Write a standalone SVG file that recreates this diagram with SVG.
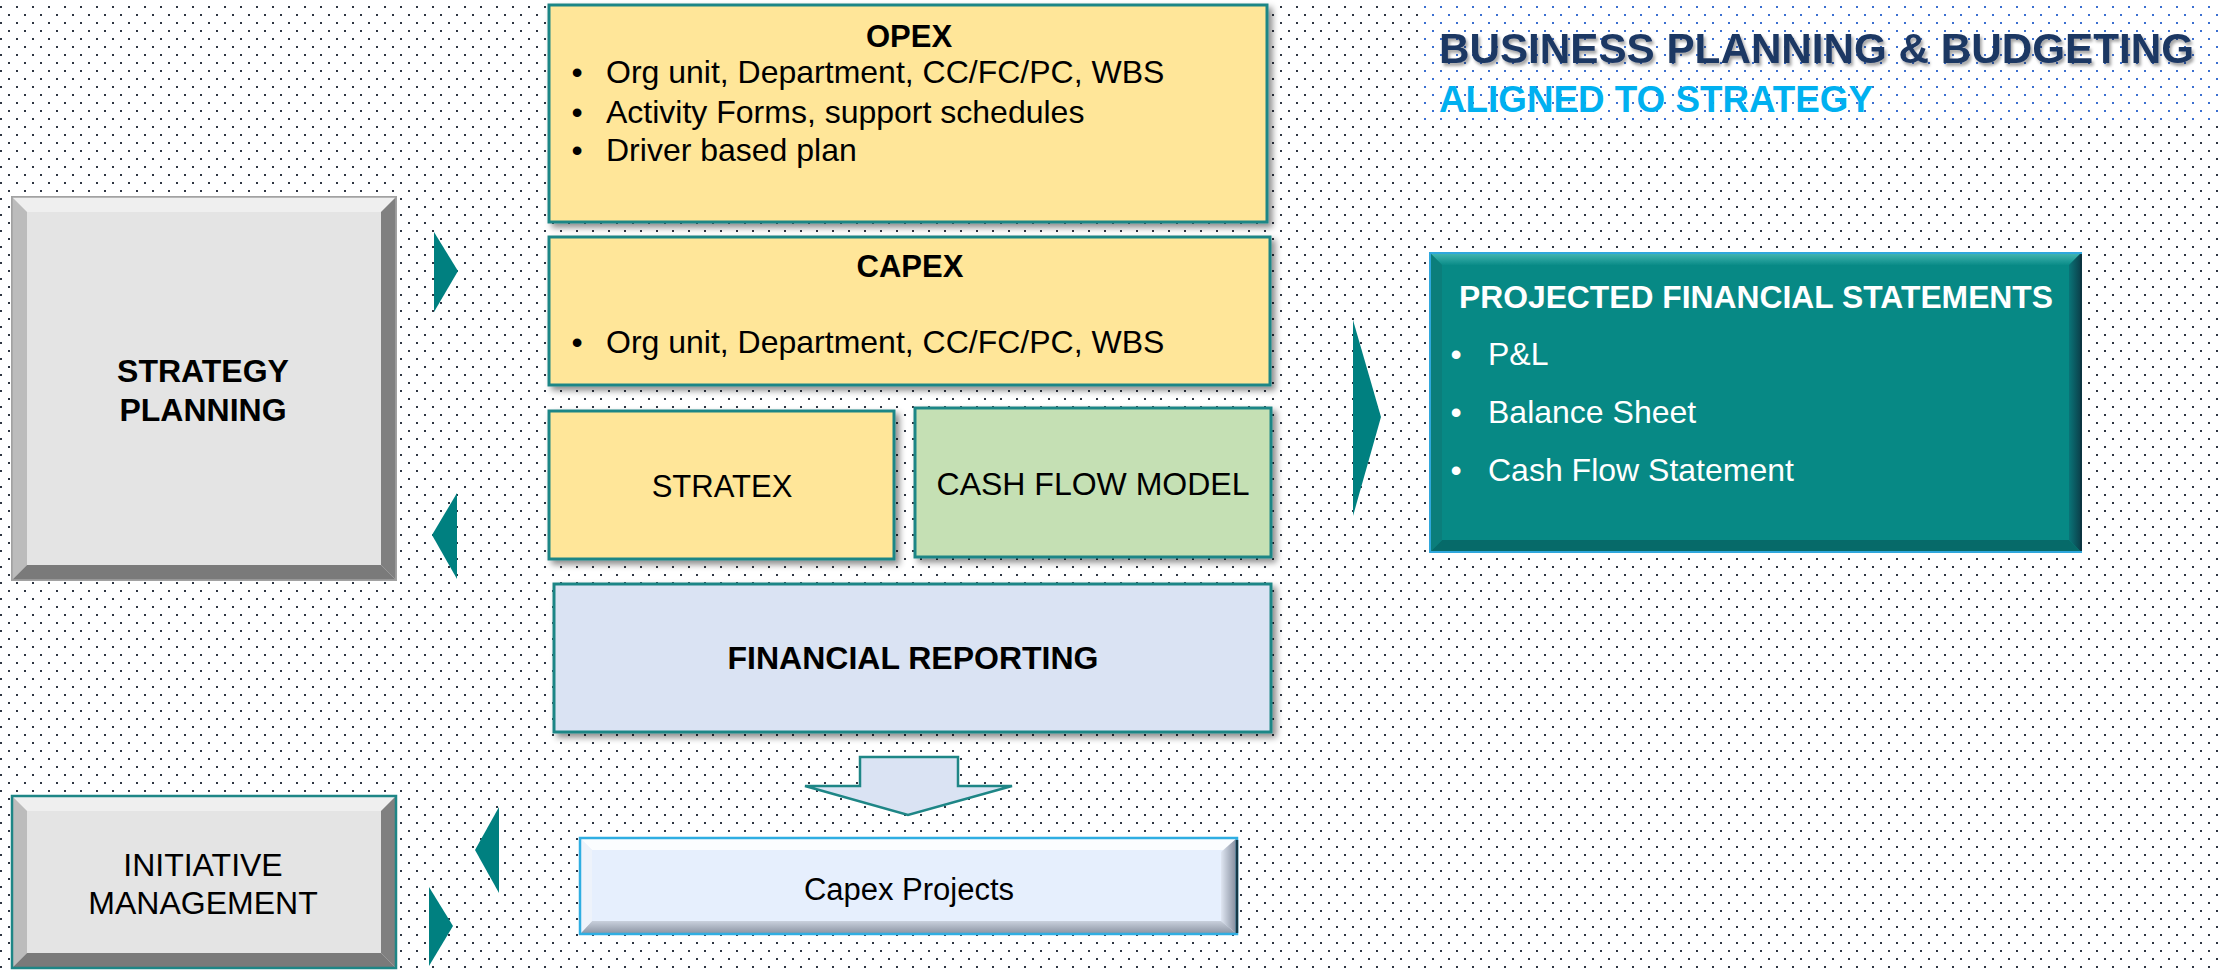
<svg xmlns="http://www.w3.org/2000/svg" width="2219" height="970" viewBox="0 0 2219 970">
<defs>
<pattern id="dots" width="16" height="16" patternUnits="userSpaceOnUse"><rect x="0" y="6" width="2" height="2" fill="#2e3542"/><rect x="8" y="14" width="2" height="2" fill="#2e3542"/></pattern>
<pattern id="bdots" width="16" height="16" patternUnits="userSpaceOnUse"><rect x="0" y="6" width="2" height="2" fill="#3b6fd0"/><rect x="8" y="14" width="2" height="2" fill="#3b6fd0"/></pattern>
<filter id="sh" x="-5%" y="-5%" width="115%" height="120%"><feDropShadow dx="4" dy="4" stdDeviation="3" flood-color="#000" flood-opacity="0.45"/></filter>
<filter id="tsh" x="-5%" y="-20%" width="110%" height="150%"><feDropShadow dx="2" dy="3" stdDeviation="1.5" flood-color="#000" flood-opacity="0.35"/></filter>
<linearGradient id="ptop" x1="0" y1="0" x2="0" y2="1"><stop offset="0" stop-color="#45b7b3"/><stop offset="1" stop-color="#0a8c88"/></linearGradient>
<linearGradient id="pright" x1="0" y1="0" x2="1" y2="0"><stop offset="0" stop-color="#0a7478"/><stop offset="1" stop-color="#0b3f4a"/></linearGradient>
<linearGradient id="cright" x1="0" y1="0" x2="1" y2="0"><stop offset="0" stop-color="#dfe6f2"/><stop offset="1" stop-color="#7f8898"/></linearGradient>
<linearGradient id="cbot" x1="0" y1="0" x2="0" y2="1"><stop offset="0" stop-color="#c9d0dc"/><stop offset="1" stop-color="#8a93a2"/></linearGradient>
<style>
.t{font-family:"Liberation Sans",Arial,sans-serif;fill:#000}
.b{font-weight:bold}
.c{text-anchor:middle}
.yel{fill:#ffe699;stroke:#1e8686;stroke-width:3}
.arr{fill:#008080}
.w{fill:#fff}
</style>
</defs>
<rect width="2219" height="970" fill="#fff"/>
<rect width="2219" height="970" fill="url(#dots)"/>
<rect x="1422" y="0" width="797" height="122" fill="#fff"/>
<rect x="1422" y="0" width="797" height="122" fill="url(#bdots)"/>

<g id="title">
<text class="t b" x="1439" y="63" font-size="42" fill="#1f3864" style="fill:#1f3864" textLength="755" lengthAdjust="spacingAndGlyphs" filter="url(#tsh)">BUSINESS PLANNING &amp; BUDGETING</text>
<text class="t b" x="1439" y="112" font-size="36" style="fill:#00b0f0" textLength="434" lengthAdjust="spacingAndGlyphs">ALIGNED TO STRATEGY</text>
</g>

<g id="strategy-planning">
<rect x="12" y="197" width="384" height="383" fill="#e4e4e4" stroke="#9c9c9c" stroke-width="2"/>
<path d="M12,197 L396,197 L381,212 L27,212 Z" fill="#efefef"/>
<path d="M12,197 L27,212 L27,565 L12,580 Z" fill="#bcbcbc"/>
<path d="M396,197 L396,580 L381,565 L381,212 Z" fill="#808080"/>
<path d="M12,580 L396,580 L381,565 L27,565 Z" fill="#7a7a7a"/>
<rect x="12" y="197" width="384" height="383" fill="none" stroke="#a4a4a4" stroke-width="1.5"/>
<text class="t b c" x="203" y="382" font-size="32">STRATEGY</text>
<text class="t b c" x="203" y="421" font-size="32">PLANNING</text>
</g>

<g id="initiative-management">
<rect x="12" y="796" width="384" height="172" fill="#e4e4e4"/>
<path d="M12,796 L396,796 L381,811 L27,811 Z" fill="#efefef"/>
<path d="M12,796 L27,811 L27,953 L12,968 Z" fill="#bcbcbc"/>
<path d="M396,796 L396,968 L381,953 L381,811 Z" fill="#808080"/>
<path d="M12,968 L396,968 L381,953 L27,953 Z" fill="#7a7a7a"/>
<rect x="12" y="796" width="384" height="172" fill="none" stroke="#1e8686" stroke-width="2.5"/>
<text class="t c" x="203" y="876" font-size="32">INITIATIVE</text>
<text class="t c" x="203" y="914" font-size="32">MANAGEMENT</text>
</g>

<g id="opex">
<rect class="yel" x="549" y="5" width="718" height="217" filter="url(#sh)"/>
<text class="t b c" x="909" y="47" font-size="31">OPEX</text>
<text class="t c" x="577" y="83" font-size="32">•</text>
<text class="t" x="606" y="83" font-size="32">Org unit, Department, CC/FC/PC, WBS</text>
<text class="t c" x="577" y="123" font-size="32">•</text>
<text class="t" x="606" y="123" font-size="32">Activity Forms, support schedules</text>
<text class="t c" x="577" y="161" font-size="32">•</text>
<text class="t" x="606" y="161" font-size="32">Driver based plan</text>
</g>

<g id="capex">
<rect class="yel" x="549" y="237" width="721" height="148" filter="url(#sh)"/>
<text class="t b c" x="910" y="277" font-size="31">CAPEX</text>
<text class="t c" x="577" y="353" font-size="32">•</text>
<text class="t" x="606" y="353" font-size="32">Org unit, Department, CC/FC/PC, WBS</text>
</g>

<g id="stratex">
<rect class="yel" x="549" y="411" width="345" height="148" filter="url(#sh)"/>
<text class="t c" x="722" y="497" font-size="31">STRATEX</text>
</g>

<g id="cash-flow-model">
<rect x="915" y="408" width="356" height="149" fill="#c5e0b4" stroke="#1e8686" stroke-width="3" filter="url(#sh)"/>
<text class="t c" x="1093" y="495" font-size="32">CASH FLOW MODEL</text>
</g>

<g id="financial-reporting">
<rect x="554" y="584" width="717" height="148" fill="#dae3f3" stroke="#1e8686" stroke-width="3" filter="url(#sh)"/>
<text class="t b c" x="913" y="669" font-size="32">FINANCIAL  REPORTING</text>
</g>

<g id="capex-projects">
<rect x="580" y="838" width="657" height="96" fill="#e6effd"/>
<path d="M580,838 L1237,838 L1225,850 L592,850 Z" fill="#fbfdff"/>
<path d="M1237,838 L1237,934 L1221,921 L1221,852 Z" fill="url(#cright)"/>
<path d="M580,934 L1237,934 L1221,921 L592,921 Z" fill="url(#cbot)"/>
<path d="M580,838 L592,850 L592,921 L580,934 Z" fill="#eef3fb"/>
<rect x="580" y="838" width="657" height="96" fill="none" stroke="#30aee2" stroke-width="2.5"/>
<line x1="1237" y1="840" x2="1237" y2="933" stroke="#163846" stroke-width="2.5"/>
<text class="t c" x="909" y="900" font-size="31">Capex Projects</text>
</g>

<g id="projected-financial-statements">
<rect x="1430" y="253" width="651" height="299" fill="#078985"/>
<path d="M1430,253 L2081,253 L2069,265 L1442,265 Z" fill="url(#ptop)"/>
<path d="M2081,253 L2081,552 L2069,540 L2069,265 Z" fill="url(#pright)"/>
<path d="M1430,552 L2081,552 L2069,540 L1442,540 Z" fill="#066a69"/>
<path d="M1430,253 L1442,265 L1442,540 L1430,552 Z" fill="#0b7e7b"/>
<rect x="1430" y="253" width="651" height="299" fill="none" stroke="#2fa7dc" stroke-width="2"/>
<line x1="2081" y1="254" x2="2081" y2="551" stroke="#0b3440" stroke-width="2"/>
<text class="t b w" x="1459" y="308" font-size="31" style="fill:#fff" textLength="594" lengthAdjust="spacingAndGlyphs">PROJECTED FINANCIAL STATEMENTS</text>
<text class="t c" x="1456" y="365" font-size="32" style="fill:#fff">•</text>
<text class="t" x="1488" y="365" font-size="32" style="fill:#fff">P&amp;L</text>
<text class="t c" x="1456" y="423" font-size="32" style="fill:#fff">•</text>
<text class="t" x="1488" y="423" font-size="32" style="fill:#fff">Balance Sheet</text>
<text class="t c" x="1456" y="481" font-size="32" style="fill:#fff">•</text>
<text class="t" x="1488" y="481" font-size="32" style="fill:#fff">Cash Flow Statement</text>
</g>

<g id="connectors">
<polygon class="arr" points="434,232 458,271 434,312"/>
<polygon class="arr" points="457,493 432,535 457,579"/>
<polygon class="arr" points="499,807 475,850 499,893"/>
<polygon class="arr" points="429,887 453,926 429,966"/>
<polygon class="arr" points="1353,320 1381,417 1353,516"/>
<polygon points="860,757 958,757 958,786 1012,786 908,815 805,786 860,786" fill="#dae3f3" stroke="#1e8686" stroke-width="2.5" stroke-linejoin="miter"/>
</g>
</svg>
